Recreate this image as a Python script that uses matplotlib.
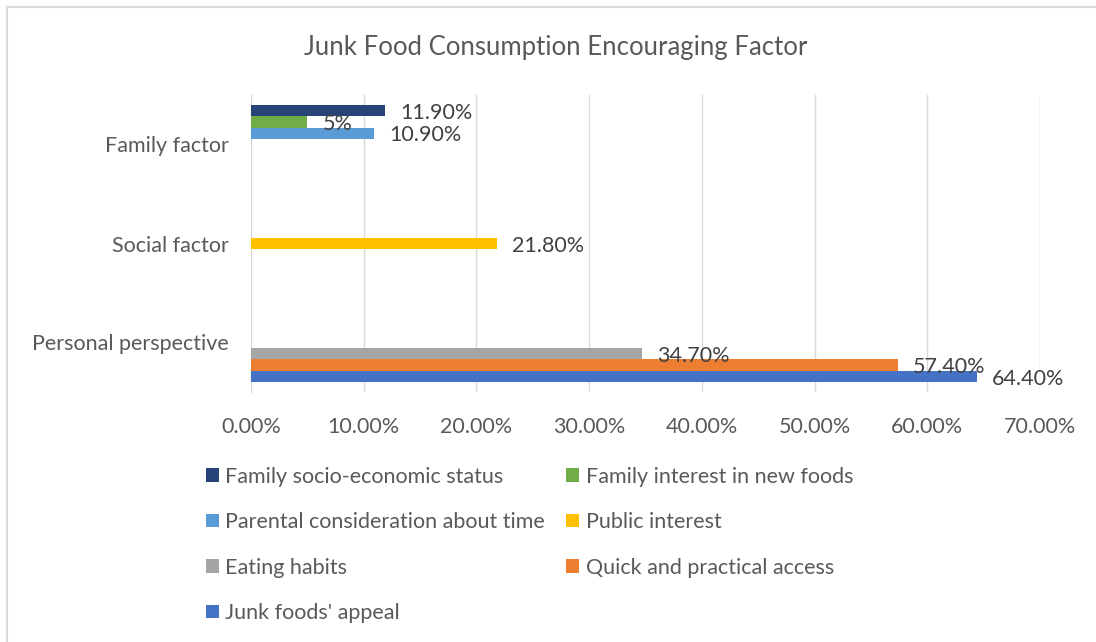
import numpy as np
import matplotlib.pyplot as plt
from matplotlib.lines import Line2D

categories = ['Personal perspective', 'Social factor', 'Family factor']

series_names = ["Junk foods' appeal", 'Quick and practical access', 'Eating habits',
                'Public interest', 'Parental consideration about time',
                'Family interest in new foods', 'Family socio-economic status']
series_colors = ['#4472C4', '#ED7D31', '#A5A5A5', '#FFC000', '#5B9BD5', '#70AD47', '#264478']

# percent per category (nan = not part of that factor)
junk_appeal = [64.4, np.nan, np.nan]
quick_access = [57.4, np.nan, np.nan]
eating_habits = [34.7, np.nan, np.nan]
public_interest = [np.nan, 21.8, np.nan]
parental_time = [np.nan, np.nan, 10.9]
family_new_foods = [np.nan, np.nan, 5.0]
family_status = [np.nan, np.nan, 11.9]

series_values = [junk_appeal, quick_access, eating_habits, public_interest,
                 parental_time, family_new_foods, family_status]

x_ticks = [0, 10, 20, 30, 40, 50, 60, 70]

plt.rcParams['font.family'] = ['Lato', 'DejaVu Sans']
text_grey = '#595959'
fs = 15.5

fig = plt.figure(figsize=(10.96, 6.42), dpi=100)
W, H = 1096, 642
ax = fig.add_axes([251 / W, 1 - 392 / H, 789 / W, 297 / H])

n = len(series_names)
h = 0.8 / n
cat_pos = np.arange(len(categories))

for i, (name, vals, col) in enumerate(zip(series_names, series_values, series_colors)):
    y = cat_pos + (i - (n - 1) / 2) * h
    ax.barh(y, np.nan_to_num(vals), height=h, color=col, label=name, zorder=3)
    for yy, v in zip(y, vals):
        if np.isnan(v):
            continue
        txt = f'{v:.0f}%' if float(v).is_integer() else f'{v:.2f}%'
        ax.annotate(txt, (v, yy), xytext=(11, -1.5), textcoords='offset points',
                    va='center', ha='left', fontsize=fs, color='#404040', zorder=4)

ax.set_xlim(0, 70)
ax.set_ylim(-0.5, len(categories) - 0.5)
ax.set_xticks(x_ticks)
ax.set_xticklabels([f'{t:.2f}%' for t in x_ticks])
ax.set_yticks(cat_pos)
ax.set_yticklabels(categories)
ax.tick_params(axis='both', length=0, labelsize=fs, labelcolor=text_grey)
ax.tick_params(axis='x', pad=18)
ax.tick_params(axis='y', pad=16)
ax.grid(axis='x', color='#D9D9D9', linewidth=1, zorder=0)
for s in ['top', 'right', 'bottom']:
    ax.spines[s].set_visible(False)
ax.spines['left'].set_color('#D9D9D9')

fig.suptitle('Junk Food Consumption Encouraging Factor', x=556 / W, y=1 - 47 / H,
             va='center', fontsize=18.5, color=text_grey)

# legend laid out in two columns, row by row
handles, labels = ax.get_legend_handles_labels()
order = [6, 4, 2, 0, 5, 3, 1]
fig.legend([handles[k] for k in order], [labels[k] for k in order],
           loc='upper left', bbox_to_anchor=(195 / W, 1 - 456 / H), ncol=2,
           frameon=False, fontsize=fs, labelcolor=text_grey, borderpad=0,
           handlelength=0.6, handleheight=0.6, handletextpad=0.3,
           labelspacing=1.18, columnspacing=1.0)

# outer chart border
fig.add_artist(Line2D([7 / W, 7 / W], [0, 1 - 7 / H], color='#D9D9D9', linewidth=1.5,
                      transform=fig.transFigure))
fig.add_artist(Line2D([7 / W, 1], [1 - 7 / H, 1 - 7 / H], color='#D9D9D9', linewidth=1.5,
                      transform=fig.transFigure))

fig.savefig('out.png', dpi=100)
